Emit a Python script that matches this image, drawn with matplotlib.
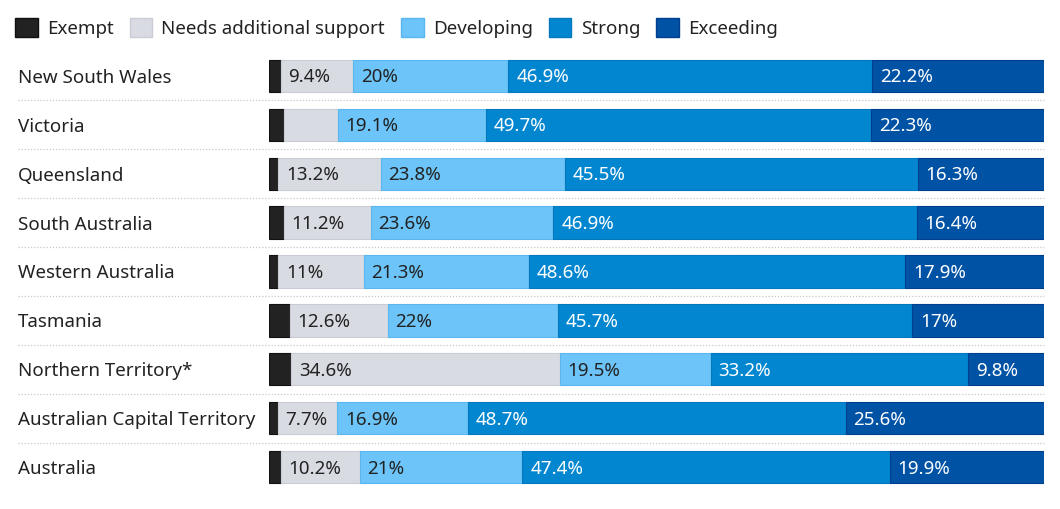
import matplotlib.pyplot as plt
from matplotlib.patches import Patch
import numpy as np

plt.rcParams['font.family'] = ['Noto Sans', 'DejaVu Sans']

# Data
states = ['New South Wales', 'Victoria', 'Queensland', 'South Australia',
          'Western Australia', 'Tasmania', 'Northern Territory*',
          'Australian Capital Territory', 'Australia']
categories = ['Exempt', 'Needs additional support', 'Developing', 'Strong', 'Exceeding']

exempt = [1.5, 1.9, 1.2, 1.9, 1.2, 2.7, 2.9, 1.1, 1.5]
needs = [9.4, 7.0, 13.2, 11.2, 11.0, 12.6, 34.6, 7.7, 10.2]
developing = [20.0, 19.1, 23.8, 23.6, 21.3, 22.0, 19.5, 16.9, 21.0]
strong = [46.9, 49.7, 45.5, 46.9, 48.6, 45.7, 33.2, 48.7, 47.4]
exceeding = [22.2, 22.3, 16.3, 16.4, 17.9, 17.0, 9.8, 25.6, 19.9]

series = [exempt, needs, developing, strong, exceeding]
colors = ['#222222', '#d8dbe2', '#6cc4f8', '#0386d0', '#0052a5']
edges = ['#111111', '#c9ccd4', '#5ab6ee', '#0278bd', '#003f8f']
text_colors = [None, '#222222', '#222222', 'white', 'white']

FS = 13.5

W, H = 1060, 509
fig = plt.figure(figsize=(W / 100, H / 100), dpi=100)
ax = fig.add_axes([269 / W, 1 - 491.5 / H, 775 / W, 440 / H])

y = np.arange(len(states))
left = np.zeros(len(states))
for vals, c, ec, tc in zip(series, colors, edges, text_colors):
    vals = np.array(vals)
    ax.barh(y, vals, left=left, height=0.66, color=c, edgecolor=ec, linewidth=0.8)
    if tc is not None:
        for yi, (l, v) in enumerate(zip(left, vals)):
            if v >= 7.5:
                ax.text(l + 1.0, yi + 0.03, f'{v:g}%', va='center', ha='left',
                        color=tc, fontsize=FS)
    left += vals

ax.set_xlim(0, left.max())
ax.set_ylim(len(states) - 0.5, -0.5)

# row separators
for i in range(len(states) - 1):
    ax.plot([-0.324, 1], [i + 0.5, i + 0.5], transform=ax.get_yaxis_transform(),
            color='#c8c8c8', lw=0.9, ls=(0, (1, 1.5)), clip_on=False)

ax.set_yticks(y)
ax.set_yticklabels(states, fontsize=FS, color='#222222')
for lab in ax.get_yticklabels():
    lab.set_horizontalalignment('left')
ax.tick_params(axis='y', length=0, pad=251 * 0.72)
ax.set_xticks([])
for s in ax.spines.values():
    s.set_visible(False)

handles = [Patch(facecolor=c, edgecolor=ec, label=lab)
           for c, ec, lab in zip(colors, edges, categories)]
fig.legend(handles=handles, loc='upper left', bbox_to_anchor=(15 / W, 1 - 18 / H),
           ncol=5, frameon=False, fontsize=FS, handlelength=1.2,
           handleheight=1.2, handletextpad=0.5, columnspacing=0.85,
           borderpad=0, borderaxespad=0, labelcolor='#222222')

fig.savefig('out.png', dpi=100)
